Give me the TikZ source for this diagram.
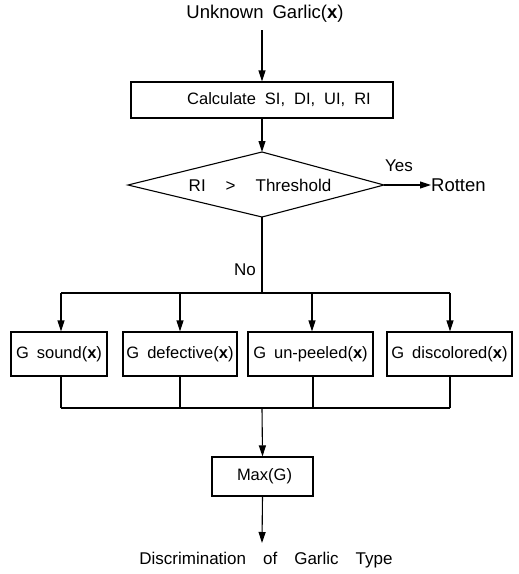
\documentclass[tikz,border=0pt]{standalone}
\usepackage{fontspec}
\setmainfont{Liberation Sans}
\usetikzlibrary{arrows.meta}
\newcommand\wsp[1]{\spaceskip=#1pt\relax}
\tikzset{
  txt/.style={font=\fontsize{17}{20}\selectfont, inner sep=0pt},
  box/.style={draw, line width=1.1pt, inner sep=0pt, font=\fontsize{16.5}{20}\selectfont},
  line/.style={line width=1.1pt},
  arr/.style={line width=1.1pt, -{Triangle[length=11pt,width=7pt]}},
}
\begin{document}
\begin{tikzpicture}[x=1pt,y=-1pt]
\useasboundingbox (0,0) rectangle (519,574);
\node[txt, font=\fontsize{18.5}{20}\selectfont] (in) at (265,14) {\wsp{9}Unknown Garlic(\textbf{x})};
\coordinate (intail) at (262,30);
\node[box, minimum width=262pt, minimum height=36pt] (calc) at (262,100) {\hspace*{34pt}\wsp{9}Calculate SI, DI, UI, RI};
\coordinate (dtop) at (262,152);
\coordinate (dright) at (384,185);
\coordinate (dbot) at (262,217);
\coordinate (dleft) at (128,185);
\draw[line, line join=miter] (dtop) -- (dright) -- (dbot) -- (dleft) -- cycle;
\node[txt] (declab) at (260,185) {\wsp{20}RI > Threshold};
\node[txt, anchor=west, font=\fontsize{18.5}{20}\selectfont] (rot) at (431,185) {Rotten};
\node[txt, anchor=west] (yes) at (385,166) {Yes};
\node[txt, anchor=east] (no) at (256,270) {No};
\coordinate (split) at (262,293);
\node[box, minimum width=96pt, minimum height=44pt] (g1) at (59,354) {\wsp{8}G sound(\textbf{x})};
\node[box, minimum width=114pt, minimum height=44pt] (g2) at (180,354) {\wsp{8}G defective(\textbf{x})};
\node[box, minimum width=125pt, minimum height=44pt] (g3) at (310.5,354) {\wsp{8}G un-peeled(\textbf{x})};
\node[box, minimum width=125pt, minimum height=44pt] (g4) at (449.5,354) {\wsp{8}G discolored(\textbf{x})};
\coordinate (s1) at (61,293);
\coordinate (s2) at (180,293);
\coordinate (s3) at (312,293);
\coordinate (s4) at (450,293);
\coordinate (j1) at (61,408);
\coordinate (j2) at (180,408);
\coordinate (j3) at (313,408);
\coordinate (j4) at (450,408);
\coordinate (join) at (262,408);
\coordinate (outtip) at (262,543);
\node[box, minimum width=101pt, minimum height=39pt] (max) at (262.5,476.5) {\hspace*{4pt}Max(G)};
\node[txt] (out) at (266,560) {\wsp{17}Discrimination of Garlic Type};
\draw[arr] (intail) -- (intail |- calc.north);
\draw[arr] (calc.south) -- (dtop);
\draw[arr] (dright) -- (rot.west);
\draw[line] (dbot) -- (split);
\draw[line] (s1) -- (s4);
\draw[arr] (s1) -- (s1 |- g1.north);
\draw[arr] (s2) -- (s2 |- g2.north);
\draw[arr] (s3) -- (s3 |- g3.north);
\draw[arr] (s4) -- (s4 |- g4.north);
\draw[line] (j1 |- g1.south) -- (j1);
\draw[line] (j2 |- g2.south) -- (j2);
\draw[line] (j3 |- g3.south) -- (j3);
\draw[line] (j4 |- g4.south) -- (j4);
\draw[line] (j1) -- (j4);
\draw[arr] (join) -- (max.north);
\draw[arr] (max.south) -- (outtip);
\end{tikzpicture}
\end{document}
